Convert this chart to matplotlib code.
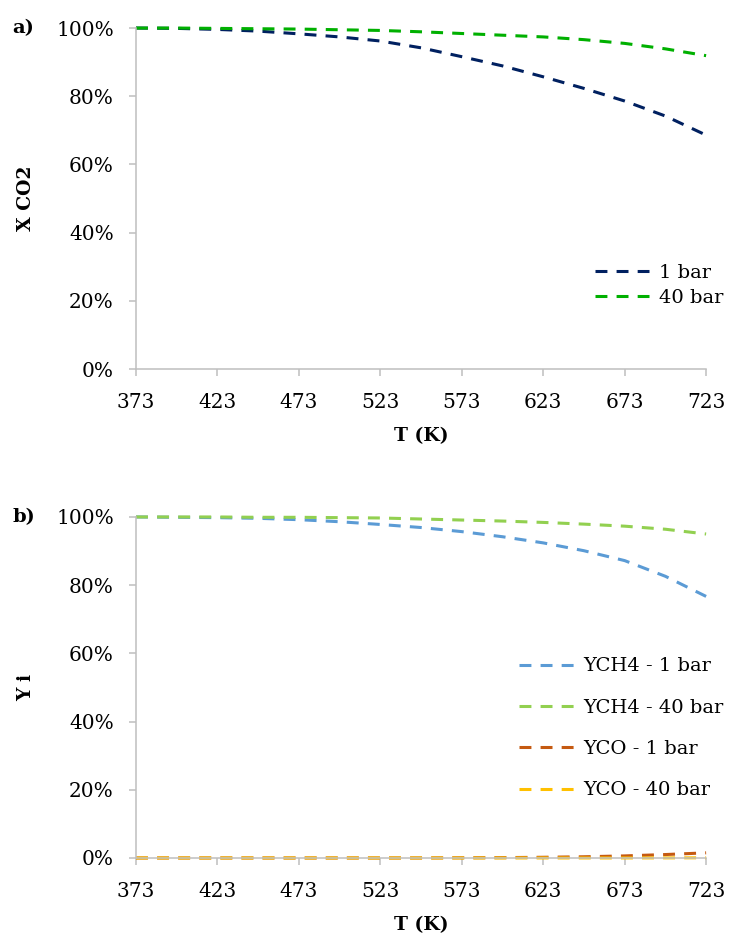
import matplotlib
matplotlib.use('Agg')
import matplotlib.pyplot as plt
from matplotlib.ticker import PercentFormatter
import numpy as np

T = [373, 398, 423, 448, 473, 498, 523, 548, 573, 598, 623, 648, 673, 698, 723]
xco2_1bar = [100, 99.9, 99.6, 99.1, 98.3, 97.4, 96.2, 94.2, 91.6, 88.9, 85.7, 82.3, 78.6, 74.2, 68.6]
xco2_40bar = [100, 100, 99.9, 99.8, 99.7, 99.5, 99.3, 98.9, 98.4, 97.9, 97.4, 96.6, 95.5, 93.9, 91.9]
ych4_1bar = [100, 99.9, 99.8, 99.6, 99.2, 98.6, 97.8, 96.9, 95.7, 94.2, 92.4, 90.1, 87.2, 82.6, 76.7]
ych4_40bar = [100, 100, 100, 99.9, 99.9, 99.8, 99.7, 99.4, 99.1, 98.8, 98.4, 97.9, 97.3, 96.4, 95.0]
yco_1bar = [0, 0, 0, 0, 0, 0, 0, 0, 0.05, 0.1, 0.2, 0.35, 0.6, 1.0, 1.5]
yco_40bar = [0, 0, 0, 0, 0, 0, 0, 0, 0, 0, 0, 0, 0, 0.02, 0.05]
xticks = [373, 423, 473, 523, 573, 623, 673, 723]

plt.rcParams['font.family'] = 'DejaVu Serif'
plt.rcParams['font.size'] = 14

grey = '#BFBFBF'
fig = plt.figure(figsize=(7.29, 9.35), dpi=100)
ax1 = fig.add_axes([0.1866, 0.6053, 0.782, 0.3647])
ax2 = fig.add_axes([0.1866, 0.0824, 0.782, 0.3647])

dash = (3.9, 3.0)
ax1.plot(T, np.array(xco2_1bar) / 100, color='#002060', lw=2.2, dashes=dash, label='1 bar')
ax1.plot(T, np.array(xco2_40bar) / 100, color='#00B000', lw=2.2, dashes=dash, label='40 bar')

ax2.plot(T, np.array(ych4_1bar) / 100, color='#5B9BD5', lw=2.2, dashes=dash, label='YCH4 - 1 bar')
ax2.plot(T, np.array(ych4_40bar) / 100, color='#92D050', lw=2.2, dashes=dash, label='YCH4 - 40 bar')
ax2.plot(T, np.array(yco_1bar) / 100, color='#C55A11', lw=2.2, dashes=dash, label='YCO - 1 bar')
ax2.plot(T, np.array(yco_40bar) / 100, color='#FFC000', lw=2.2, dashes=dash, label='YCO - 40 bar')

for ax in (ax1, ax2):
    ax.set_xlim(373, 723)
    ax.set_ylim(0, 1)
    ax.set_xticks(xticks)
    ax.set_yticks([0, 0.2, 0.4, 0.6, 0.8, 1.0])
    ax.yaxis.set_major_formatter(PercentFormatter(1.0, decimals=0))
    for s in ('top', 'right'):
        ax.spines[s].set_visible(False)
    for s in ('left', 'bottom'):
        ax.spines[s].set_color(grey)
        ax.spines[s].set_linewidth(1.1)
    ax.tick_params(axis='both', colors=grey, labelcolor='black', width=1.1,
                   length=5, labelsize=14.5)
    ax.tick_params(axis='x', pad=12)
    ax.tick_params(axis='y', pad=11)
    ax.set_xlabel('T (K)', fontweight='bold', fontsize=13.5)
    ax.xaxis.set_label_coords(0.5, -0.17)
    ax.yaxis.set_label_coords(-0.177, 0.5)
    for line in ax.get_lines():
        line.set_clip_on(False)

ax1.set_ylabel('X CO2', fontweight='bold', fontsize=13.5)
ax2.set_ylabel('Y i', fontweight='bold', fontsize=13.5)

ax1.legend(loc='center left', bbox_to_anchor=(0.805, 0.246), frameon=False,
           fontsize=14, handlelength=2.8, handletextpad=0.5, labelspacing=0.35,
           borderpad=0, borderaxespad=0)
ax2.legend(loc='center left', bbox_to_anchor=(0.672, 0.38), frameon=False,
           fontsize=14, handlelength=3.0, handletextpad=0.3, labelspacing=1.2,
           borderpad=0, borderaxespad=0)

fig.text(12 / 729, 1 - 28 / 935, 'a)', fontweight='bold', fontsize=14, va='center', ha='left')
fig.text(12 / 729, 1 - 517 / 935, 'b)', fontweight='bold', fontsize=14, va='center', ha='left')

fig.savefig('out.png', dpi=100)
